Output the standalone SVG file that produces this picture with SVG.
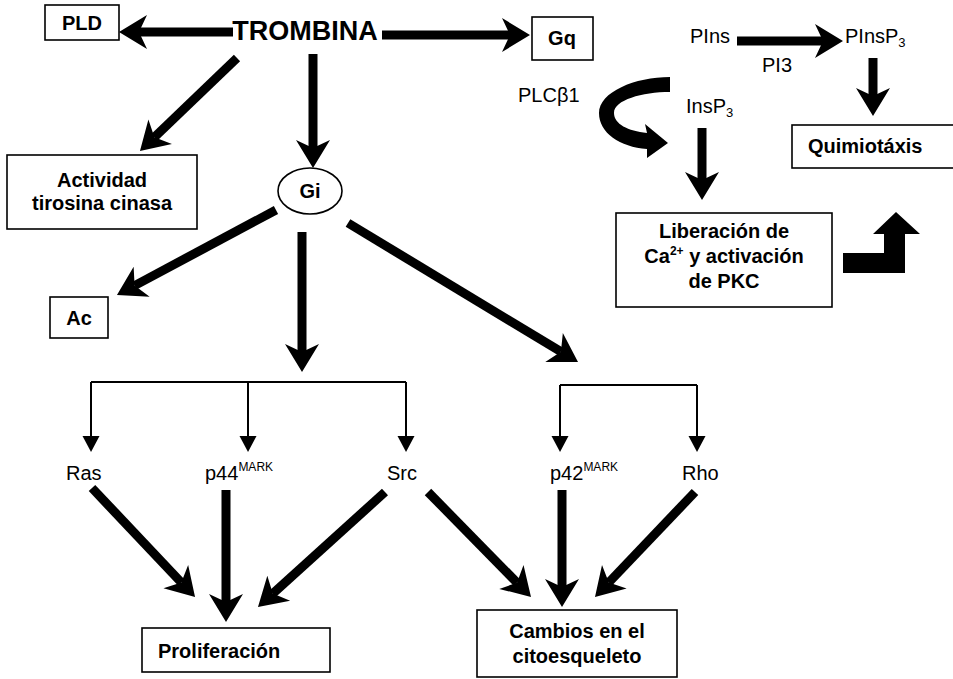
<svg xmlns="http://www.w3.org/2000/svg" width="953" height="679" viewBox="0 0 953 679">
<defs>
<style>
.box{fill:#fff;stroke:#000;stroke-width:1.6}
.b{font-family:"Liberation Sans",Arial,sans-serif;font-weight:bold;font-size:20px;fill:#000}
.r{font-family:"Liberation Sans",Arial,sans-serif;font-size:20px;fill:#000}
.big{stroke:#000;stroke-width:9;fill:none;marker-end:url(#hb)}
.thin{stroke:#000;stroke-width:2;fill:none}
.thinA{stroke:#000;stroke-width:2;fill:none;marker-end:url(#hs)}
.sup{font-size:12px}
.sub{font-size:13px}
</style>
<marker id="hb" markerUnits="userSpaceOnUse" markerWidth="40" markerHeight="40" viewBox="-30 -20 32 40" refX="-20" refY="0" orient="auto">
<path d="M0,0 L-28,-17 L-20,0 L-28,17 Z" fill="#000"/>
</marker>
<marker id="hs" markerUnits="userSpaceOnUse" markerWidth="20" markerHeight="20" viewBox="-18 -10 20 20" refX="-14" refY="0" orient="auto">
<path d="M0,0 L-16,-8.5 L-16,8.5 Z" fill="#000"/>
</marker>
</defs>
<rect width="953" height="679" fill="#fff"/>

<g id="connectors">
<line class="big" x1="233" y1="32" x2="139" y2="32"/>
<line class="big" x1="382" y1="35" x2="510" y2="35"/>
<line class="big" x1="237" y1="58" x2="154.4" y2="137.2"/>
<line class="big" x1="313" y1="54" x2="313" y2="148"/>
<line class="big" x1="276" y1="210" x2="134.6" y2="285.6"/>
<line class="big" x1="302" y1="232" x2="302" y2="352"/>
<line class="big" x1="348" y1="223" x2="560.9" y2="351.7"/>
<line class="big" x1="92" y1="488" x2="181.3" y2="582.5"/>
<line class="big" x1="226" y1="490" x2="226" y2="602"/>
<line class="big" x1="385" y1="492" x2="272.8" y2="593.6"/>
<line class="big" x1="428" y1="492" x2="517" y2="582.7"/>
<line class="big" x1="562" y1="490" x2="562" y2="587"/>
<line class="big" x1="695" y1="492" x2="608.8" y2="582.5"/>
<line class="big" x1="737" y1="41" x2="823" y2="41"/>
<line class="big" x1="873" y1="58" x2="873" y2="96"/>
<line class="big" x1="702" y1="128" x2="702" y2="180"/>
<polyline class="thin" points="91,382 406,382"/>
<line class="thinA" x1="91" y1="382" x2="91" y2="438"/>
<line class="thinA" x1="248" y1="382" x2="248" y2="438"/>
<line class="thinA" x1="406" y1="382" x2="406" y2="438"/>
<polyline class="thin" points="560,385 697,385"/>
<line class="thinA" x1="560" y1="385" x2="560" y2="438"/>
<line class="thinA" x1="697" y1="385" x2="697" y2="438"/>
<path id="curved-arrow" d="M670,77 L670,92 C642,92 614,100 614,113 C614,124 628,131 647,133 L645,124 L668,143 L647,158 L647,149 C620,147 599,133 599,113 C599,92 635,77 670,77 Z" fill="#000"/>
<path id="bent-arrow" d="M843,253 L884,253 L884,234 L873,234 L896,212 L920,234 L905,234 L905,273 L843,273 Z" fill="#000"/>
</g>

<g id="trombina"><text class="b" x="305" y="40" text-anchor="middle" style="font-size:27px">TROMBINA</text></g>
<g id="pld"><rect class="box" x="45" y="5" width="74" height="35"/><text class="b" x="82" y="30" text-anchor="middle">PLD</text></g>
<g id="gq"><rect class="box" x="532" y="17" width="61" height="43"/><text class="b" x="562" y="45" text-anchor="middle">Gq</text></g>
<g id="actividad"><rect class="box" x="7" y="155" width="190" height="74"/><text class="b" x="102" y="187" text-anchor="middle">Actividad</text><text class="b" x="102" y="210" text-anchor="middle">tirosina cinasa</text></g>
<g id="gi"><ellipse class="box" cx="310" cy="191" rx="32" ry="23"/><text class="b" x="310" y="198" text-anchor="middle">Gi</text></g>
<g id="ac"><rect class="box" x="50" y="297" width="58" height="41"/><text class="b" x="79" y="325" text-anchor="middle">Ac</text></g>
<g id="ras"><text class="r" x="66" y="480">Ras</text></g>
<g id="p44"><text class="r" x="205" y="480">p44<tspan class="sup" dy="-9">MARK</tspan></text></g>
<g id="src"><text class="r" x="387" y="480">Src</text></g>
<g id="p42"><text class="r" x="550" y="480">p42<tspan class="sup" dy="-9">MARK</tspan></text></g>
<g id="rho"><text class="r" x="682" y="480">Rho</text></g>
<g id="proliferacion"><rect class="box" x="142" y="628" width="188" height="44"/><text class="b" x="158" y="658">Proliferación</text></g>
<g id="cambios"><rect class="box" x="477" y="610" width="200" height="67"/><text class="b" x="577" y="638" text-anchor="middle">Cambios en el</text><text class="b" x="577" y="663" text-anchor="middle">citoesqueleto</text></g>
<g id="plcb1"><text class="r" x="518" y="102">PLCβ1</text></g>
<g id="pins"><text class="r" x="690" y="43">PIns</text></g>
<g id="pi3"><text class="r" x="762" y="72">PI3</text></g>
<g id="pinsp3"><text class="r" x="845" y="43">PInsP<tspan class="sub" dy="4">3</tspan></text></g>
<g id="insp3"><text class="r" x="686" y="113">InsP<tspan class="sub" dy="4">3</tspan></text></g>
<g id="quimiotaxis"><rect class="box" x="792" y="125" width="170" height="43"/><text class="b" x="808" y="153">Quimiotáxis</text></g>
<g id="liberacion"><rect class="box" x="616" y="213" width="216" height="94"/><text class="b" x="724" y="238" text-anchor="middle">Liberación de</text><text class="b" x="724" y="263" text-anchor="middle">Ca<tspan class="sup" dy="-8">2+</tspan><tspan dy="8"> y activación</tspan></text><text class="b" x="724" y="288" text-anchor="middle">de PKC</text></g>
</svg>
